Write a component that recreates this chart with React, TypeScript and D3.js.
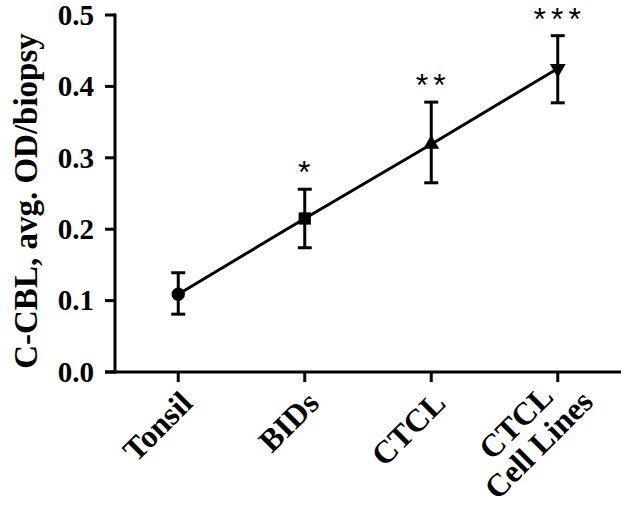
import React from "react";
import * as d3 from "d3";

const categories = ["Tonsil", "BIDs", "CTCL", "CTCL\nCell Lines"];
const means = [0.109, 0.215, 0.319, 0.425];
const upper = [0.139, 0.256, 0.378, 0.471];
const lower = [0.081, 0.174, 0.265, 0.377];
const stars = ["", "*", "**", "***"];
const markers = ["circle", "square", "triangleUp", "triangleDown"];
const yTicks = [0.0, 0.1, 0.2, 0.3, 0.4, 0.5];

const W = 632;
const H = 505;
const left = 115;
const right = 621;
const top = 15;
const bottom = 372;

export default function App() {
  const x = d3.scalePoint<string>().domain(categories).range([left, right]).padding(0.5);
  const y = d3.scaleLinear().domain([0, 0.5]).range([bottom, top]);
  const line = d3
    .line<number>()
    .x((_, i) => x(categories[i]) as number)
    .y((d) => y(d));

  const sym = (m: string) => {
    if (m === "circle") return d3.symbol(d3.symbolCircle, 140)();
    if (m === "square") return d3.symbol(d3.symbolSquare, 150)();
    return d3.symbol(d3.symbolTriangle, 110)();
  };

  const serif = "'Liberation Serif', 'Times New Roman', serif";

  return (
    <svg width={W} height={H} style={{ position: "absolute", left: 0, top: 0 }}>
      <rect width={W} height={H} fill="white" />
      {/* y axis */}
      <line x1={left} x2={left} y1={top - 1.5} y2={bottom + 1.5} stroke="black" strokeWidth={3} />
      {yTicks.map((t) => (
        <g key={t}>
          <line x1={left - 10} x2={left} y1={y(t)} y2={y(t)} stroke="black" strokeWidth={3} />
          <text
            x={left - 21}
            y={y(t)}
            dy="0.34em"
            textAnchor="end"
            fontFamily={serif}
            fontWeight="bold"
            fontSize={29}
          >
            {t.toFixed(1)}
          </text>
        </g>
      ))}
      <text
        transform={`translate(37,201) rotate(-90)`}
        textAnchor="middle"
        fontFamily={serif}
        fontWeight="bold"
        fontSize={33}
      >
        C-CBL, avg. OD/biopsy
      </text>
      {/* x axis */}
      <line x1={left - 10} x2={right} y1={bottom} y2={bottom} stroke="black" strokeWidth={3} />
      {categories.map((c) => {
        const cx = x(c) as number;
        const lines = c.split("\n");
        return (
          <g key={c}>
            <line x1={cx} x2={cx} y1={bottom} y2={bottom + 10} stroke="black" strokeWidth={3} />
            <g transform={`translate(${cx + 16},${bottom + 33}) rotate(-45)`}>
              {lines.length === 1 ? (
                <text textAnchor="end" fontFamily={serif} fontWeight="bold" fontSize={32}>
                  {lines[0]}
                </text>
              ) : (
                lines.map((l, i) => (
                  <text
                    key={i}
                    x={-53}
                    y={-18 + i * 32}
                    textAnchor="middle"
                    fontFamily={serif}
                    fontWeight="bold"
                    fontSize={32}
                  >
                    {l}
                  </text>
                ))
              )}
            </g>
          </g>
        );
      })}
      {/* connecting line */}
      <path d={line(means) || ""} fill="none" stroke="black" strokeWidth={3} />
      {/* error bars */}
      {categories.map((c, i) => {
        const cx = x(c) as number;
        return (
          <g key={c} stroke="black" strokeWidth={3}>
            <line x1={cx} x2={cx} y1={y(upper[i])} y2={y(lower[i])} />
            <line x1={cx - 7} x2={cx + 7} y1={y(upper[i])} y2={y(upper[i])} />
            <line x1={cx - 7} x2={cx + 7} y1={y(lower[i])} y2={y(lower[i])} />
          </g>
        );
      })}
      {/* markers */}
      {categories.map((c, i) => {
        const cx = x(c) as number;
        const rot = markers[i] === "triangleDown" ? 180 : 0;
        return (
          <path
            key={c}
            d={sym(markers[i]) || ""}
            transform={`translate(${cx},${y(means[i])}) rotate(${rot})`}
            fill="black"
          />
        );
      })}
      {/* significance stars */}
      {categories.map((c, i) =>
        stars[i] ? (
          <text
            key={c}
            x={(x(c) as number) + 2}
            y={y(upper[i]) - 6}
            textAnchor="middle"
            fontFamily="'Liberation Sans', Arial, sans-serif"
            fontSize={32}
            letterSpacing={5}
          >
            {stars[i]}
          </text>
        ) : null
      )}
    </svg>
  );
}
